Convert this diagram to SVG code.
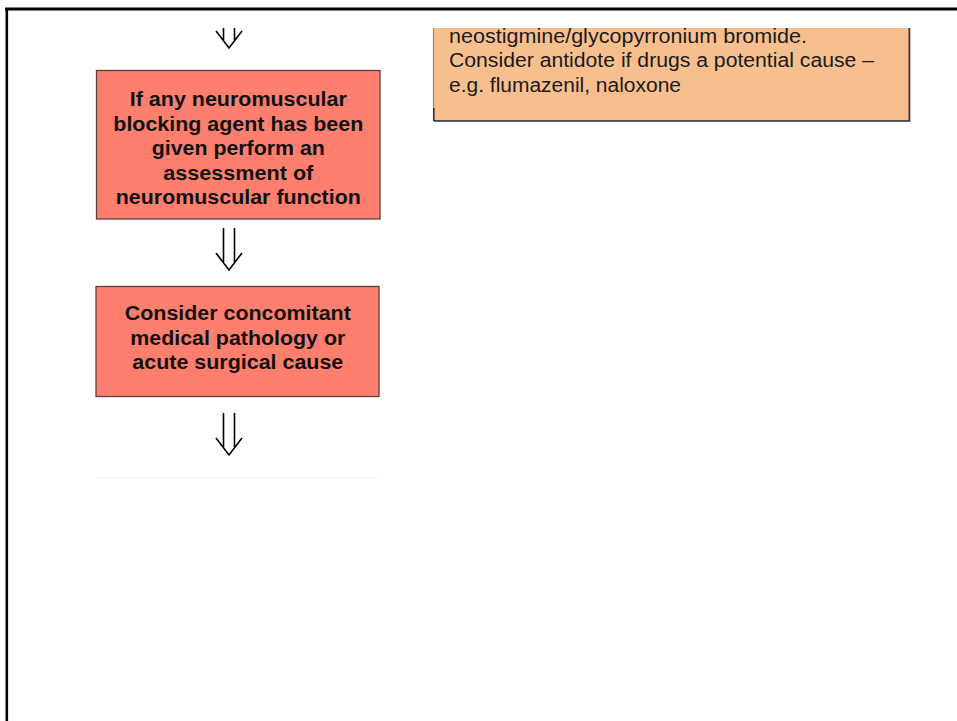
<svg xmlns="http://www.w3.org/2000/svg" width="957" height="721" viewBox="0 0 957 721">
  <style>
    .frame { stroke: #000; fill: none; }
    .step { fill: #FE7F6E; stroke: #5a4040; stroke-width: 1.3; }
    .note { fill: #F8BF8E; }
    .bold { font-family: "Liberation Sans", Arial, sans-serif; font-weight: bold; font-size: 20px; fill: #111; text-anchor: middle; }
    .plain { font-family: "Liberation Sans", Arial, sans-serif; font-size: 20px; fill: #1a1a1a; }
    .arrow { fill: none; stroke: #000; stroke-width: 1.6; stroke-linejoin: miter; }
  </style>
  <defs>
    <clipPath id="page">
      <rect x="0" y="28" width="957" height="693"/>
    </clipPath>
    <!-- double-shafted down arrow, tip at (0,0) -->
    <path id="dbl-arrow" d="M-5.5,-42 V-8 M5.5,-42 V-8 M-13,-17 L0,0 L13,-17"/>
  </defs>

  <!-- page frame -->
  <line class="frame" x1="5" y1="9" x2="957" y2="9" stroke-width="3"/>
  <line class="frame" x1="6.8" y1="8" x2="6.8" y2="721" stroke-width="2.6"/>

  <!-- connectors -->
  <g id="connectors" clip-path="url(#page)">
    <use href="#dbl-arrow" class="arrow" x="229" y="48"/>
    <use href="#dbl-arrow" class="arrow" x="229" y="270"/>
    <use href="#dbl-arrow" class="arrow" x="229" y="455"/>
  </g>

  <!-- reversal / antidote note -->
  <g id="note-antidote" clip-path="url(#page)">
    <rect class="note" x="433" y="20" width="476" height="100"/>
    <path d="M433.5,28 V120.5 H909 V28" fill="none" stroke="#9a8a80" stroke-width="1.2"/>
    <path d="M909.5,28 V121 H434 M433.8,108 V121" fill="none" stroke="#3a3030" stroke-width="1.6"/>
    <text class="plain" x="449" y="42.5" textLength="358" lengthAdjust="spacingAndGlyphs">neostigmine/glycopyrronium bromide.</text>
    <text class="plain" x="449" y="67" textLength="425" lengthAdjust="spacingAndGlyphs">Consider antidote if drugs a potential cause –</text>
    <text class="plain" x="449" y="91.5" textLength="232" lengthAdjust="spacingAndGlyphs">e.g. flumazenil, naloxone</text>
  </g>

  <!-- neuromuscular assessment step -->
  <g id="step-neuromuscular">
    <rect class="step" x="96.5" y="70.5" width="283.5" height="148.5"/>
    <text class="bold" x="238.3" y="106" textLength="217" lengthAdjust="spacingAndGlyphs">If any neuromuscular</text>
    <text class="bold" x="238.3" y="130.5" textLength="250" lengthAdjust="spacingAndGlyphs">blocking agent has been</text>
    <text class="bold" x="238.3" y="155" textLength="173" lengthAdjust="spacingAndGlyphs">given perform an</text>
    <text class="bold" x="238.3" y="179.5" textLength="150" lengthAdjust="spacingAndGlyphs">assessment of</text>
    <text class="bold" x="238.3" y="204" textLength="245" lengthAdjust="spacingAndGlyphs">neuromuscular function</text>
  </g>

  <!-- concomitant pathology step -->
  <g id="step-pathology">
    <rect class="step" x="96" y="286.5" width="283" height="110"/>
    <text class="bold" x="237.8" y="320" textLength="226" lengthAdjust="spacingAndGlyphs">Consider concomitant</text>
    <text class="bold" x="237.8" y="345" textLength="215" lengthAdjust="spacingAndGlyphs">medical pathology or</text>
    <text class="bold" x="237.8" y="369" textLength="211" lengthAdjust="spacingAndGlyphs">acute surgical cause</text>
  </g>

  <!-- faint edge of the next step -->
  <g id="step-next">
    <line x1="96" y1="477.5" x2="379" y2="477.5" stroke="#f2f2f2" stroke-width="1"/>
  </g>
</svg>
